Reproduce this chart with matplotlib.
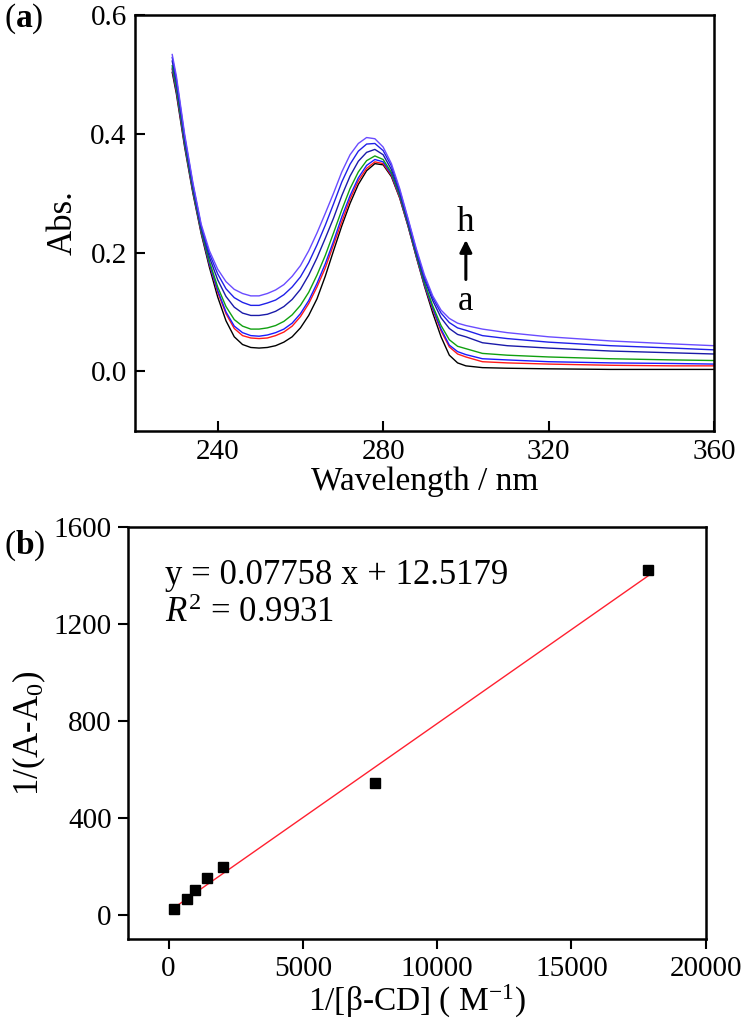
import matplotlib
matplotlib.use("Agg")
import matplotlib.pyplot as plt
import numpy as np

plt.rcParams['font.family'] = ['Liberation Serif', 'DejaVu Serif']
plt.rcParams['mathtext.fontset'] = 'custom'
plt.rcParams['mathtext.rm'] = 'Liberation Serif'
plt.rcParams['mathtext.it'] = 'Liberation Serif:italic'
plt.rcParams['mathtext.bf'] = 'Liberation Serif:bold'

# (a) espectros UV-vis, curvas a..g
wl = [229, 230, 232, 234, 236, 238, 240, 242, 244, 246, 248, 250, 252, 254, 256,
      258, 260, 262, 264, 266, 268, 270, 272, 274, 276, 278, 280, 282, 284, 286,
      288, 290, 292, 294, 296, 298, 300, 304, 310, 320, 335, 350, 360]

abs_a = [.504, .468, .378, .300, .232, .175, .125, .085, .058, .045, .040, .039, .040, .043, .049,
         .058, .073, .094, .122, .160, .203, .245, .283, .315, .338, .350, .348, .328, .292, .245,
         .193, .143, .098, .058, .027, .014, .009, .006, .005, .004, .003, .003, .003]
abs_b = [.509, .473, .382, .303, .235, .180, .133, .097, .072, .060, .056, .055, .056, .060, .066,
         .076, .092, .114, .142, .174, .213, .252, .290, .321, .342, .353, .350, .330, .293, .246,
         .194, .145, .104, .068, .041, .029, .024, .016, .014, .012, .010, .009, .009]
abs_c = [.511, .475, .383, .304, .236, .181, .136, .100, .076, .065, .060, .059, .061, .065, .071,
         .081, .097, .119, .148, .181, .219, .260, .296, .326, .347, .357, .353, .332, .295, .247,
         .195, .146, .106, .071, .044, .033, .028, .021, .019, .016, .014, .013, .012]
abs_d = [.515, .479, .386, .306, .238, .185, .142, .109, .087, .076, .071, .071, .073, .077, .084,
         .095, .111, .133, .162, .195, .233, .272, .308, .336, .355, .363, .357, .335, .297, .249,
         .197, .149, .110, .077, .053, .042, .038, .030, .027, .024, .021, .019, .018]
abs_e = [.523, .487, .392, .311, .242, .192, .154, .126, .108, .098, .094, .094, .096, .101, .109,
         .121, .138, .162, .191, .224, .258, .296, .329, .354, .369, .374, .365, .340, .301, .252,
         .201, .154, .119, .090, .072, .062, .058, .048, .043, .039, .034, .031, .029]
abs_f = [.529, .493, .396, .315, .245, .198, .164, .139, .124, .116, .111, .111, .115, .120, .129,
         .142, .159, .183, .213, .246, .282, .319, .349, .371, .383, .384, .372, .346, .305, .256,
         .204, .158, .124, .098, .082, .073, .069, .060, .055, .049, .043, .039, .036]
abs_g = [.534, .498, .400, .318, .248, .203, .172, .151, .138, .131, .127, .127, .131, .137, .146,
         .160, .178, .203, .233, .266, .300, .336, .365, .384, .394, .392, .378, .350, .308, .258,
         .207, .162, .127, .103, .089, .081, .077, .071, .065, .058, .051, .046, .043]

espectros = [abs_a, abs_b, abs_c, abs_d, abs_e, abs_f, abs_g]
colores = ['black', '#ff1a1a', '#1a1aff', '#10a010', '#1a1aa8', '#2020e8', '#6a4cff']

# (b) doble reciproco
inv_cd = [190, 670, 970, 1450, 2010, 7700, 17850]
inv_dA = [25, 65, 100, 150, 197, 545, 1420]
pendiente = 0.07758
intercepto = 12.5179

fig = plt.figure(figsize=(7.5, 10.25), dpi=100)

ax1 = fig.add_axes([0.18, 0.580, 0.772, 0.405])
for y, c in zip(espectros, colores):
    ax1.plot(wl, y, color=c, linewidth=1.0)
ax1.set_xlim(220, 360)
ax1.set_ylim(-0.1, 0.6)
ax1.set_xticks([240, 280, 320, 360])
ax1.set_yticks([0.0, 0.2, 0.4, 0.6])
ax1.yaxis.set_major_formatter(matplotlib.ticker.FormatStrFormatter('%.1f'))
ax1.tick_params(direction='in', length=7, width=1.5, labelsize=21, pad=6)
for s in ax1.spines.values():
    s.set_linewidth(1.8)
ax1.set_xlabel('Wavelength / nm', fontsize=24, labelpad=1)
ax1.set_ylabel('Abs.', fontsize=25, labelpad=8)

# flecha a -> h
ax1.annotate('', xy=(300, 0.226), xytext=(300, 0.150),
             arrowprops=dict(arrowstyle='-|>', color='black', lw=2.2, mutation_scale=18))
ax1.text(300, 0.250, 'h', fontsize=25, ha='center', va='center')
ax1.text(300, 0.118, 'a', fontsize=25, ha='center', va='center')

fig.text(0.005, 0.982, r'($\mathbf{a}$)', fontsize=24, ha='left', va='center')

ax2 = fig.add_axes([0.171, 0.084, 0.770, 0.402])
xs = np.array([inv_cd[0], inv_cd[-1]])
ax2.plot(xs, pendiente * xs + intercepto, color='#ff2030', linewidth=1.0)
ax2.plot(inv_cd, inv_dA, 's', color='black', markersize=6.5)
ax2.set_xlim(-1500, 20000)
ax2.set_ylim(-100, 1600)
ax2.set_xticks([0, 5000, 10000, 15000, 20000])
ax2.set_yticks([0, 400, 800, 1200, 1600])
ax2.tick_params(direction='out', length=7, width=1.5, labelsize=21, pad=5)
for s in ax2.spines.values():
    s.set_linewidth(1.8)
ax2.set_xlabel(r'1/[β-CD] ( M$^{-1}$)', fontsize=24, labelpad=1)
ax2.set_ylabel(r'1/(A-A$_0$)', fontsize=25, labelpad=4)
ax2.text(0.063, 0.883, 'y = 0.07758 x + 12.5179', transform=ax2.transAxes,
         fontsize=25, ha='left', va='center')
ax2.text(0.063, 0.790, r'$R^2$ = 0.9931', transform=ax2.transAxes,
         fontsize=25, ha='left', va='center')

fig.text(0.005, 0.468, r'($\mathbf{b}$)', fontsize=24, ha='left', va='center')

plt.savefig('out.png', dpi=100)
